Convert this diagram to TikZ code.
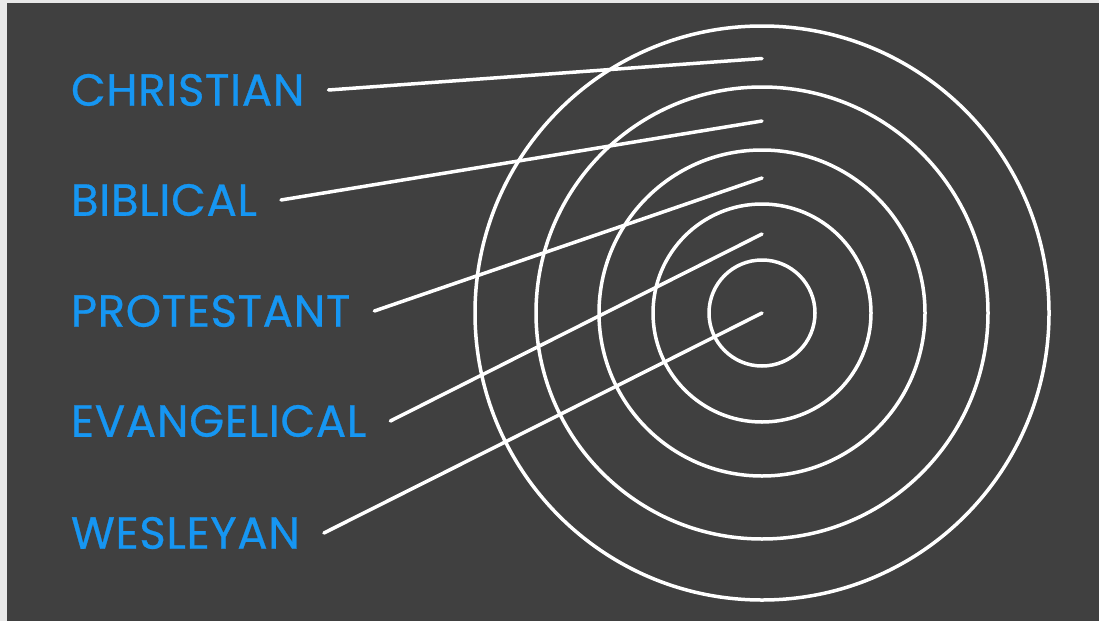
\documentclass[tikz,border=0pt]{standalone}
\usepackage{fontspec}
\newfontfamily\labelfont[FakeBold=0.6,LetterSpace=1.5]{Poppins}
\definecolor{slate}{RGB}{64,64,64}
\definecolor{skyblue}{RGB}{22,150,242}
\definecolor{paper}{RGB}{232,232,232}
\tikzset{every picture/.style={line width=0.75pt}}

\begin{document}
\begin{tikzpicture}[x=1pt,y=1pt,yscale=-1,
  ring/.style={draw=white,line width=3.5pt},
  pointer/.style={draw=white,line width=3.5pt,line cap=round},
  faith/.style={anchor=west,inner sep=0pt,outer xsep=24pt,text=skyblue,
    font=\labelfont\fontsize{45}{45}\selectfont}]
\useasboundingbox (0,0) rectangle (1099,621);
\fill [paper] (0,0) rectangle (1099,621);
\fill [slate] (7,3) rectangle (1099,621);

% target
\coordinate (ctr) at (762,313);
\foreach \r in {53,109,163,226,287}
  \draw [ring] (ctr) circle (\r);

% ends of the pointers
\coordinate (t1) at (762,58.5);
\coordinate (t2) at (762,121);
\coordinate (t3) at (762,178);
\coordinate (t4) at (762,234);
\coordinate (t5) at (762,313);

% labels
\node [faith] (christian) at (47,90) {CHRISTIAN};
\node [faith] (biblical) at (47,200) {BIBLICAL};
\node [faith] (protestant) at (47,311) {PROTESTANT};
\node [faith] (evangelical) at (47,421) {EVANGELICAL};
\node [faith] (wesleyan) at (47,533) {WESLEYAN};

\draw [pointer] (christian.east) -- (t1);
\draw [pointer] (biblical.east) -- (t2);
\draw [pointer] (protestant.east) -- (t3);
\draw [pointer] (evangelical.east) -- (t4);
\draw [pointer] (wesleyan.east) -- (t5);
\end{tikzpicture}
\end{document}
